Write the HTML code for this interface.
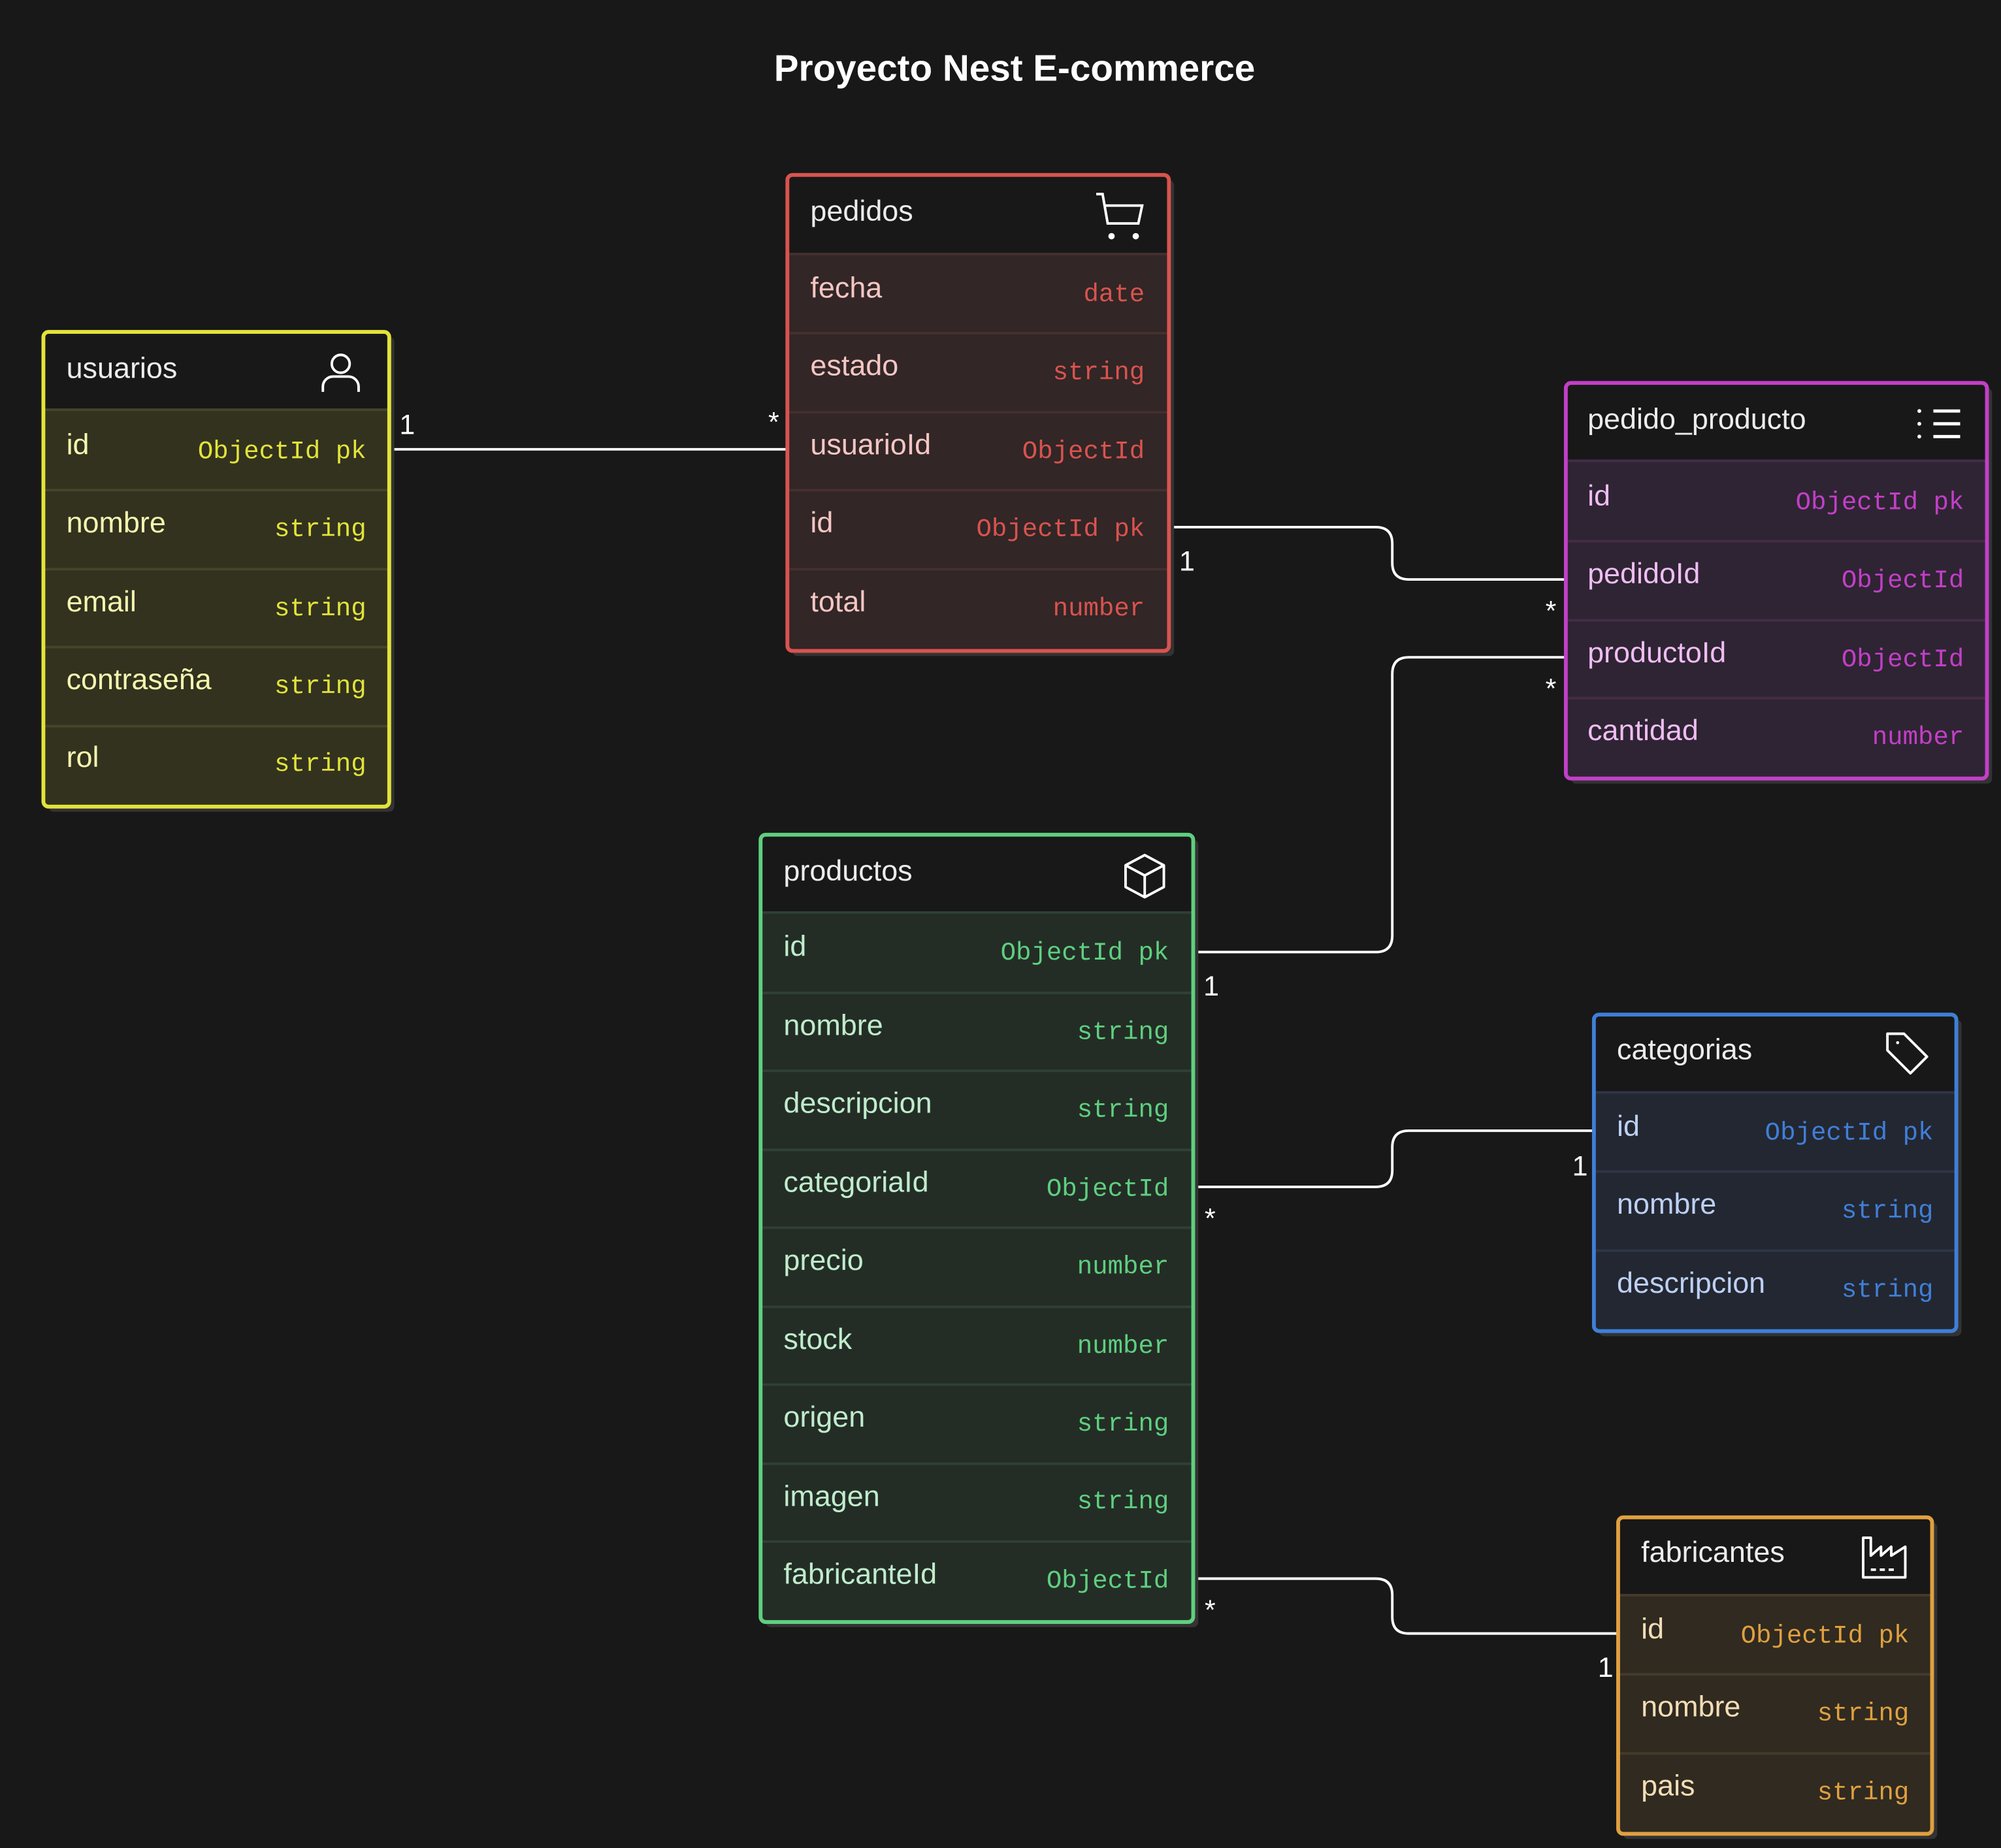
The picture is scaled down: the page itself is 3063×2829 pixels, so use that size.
<!DOCTYPE html>
<html><head><meta charset="utf-8"><style>
html,body{margin:0;padding:0;background:#181818;}
svg{display:block}
.t{font-family:"Liberation Sans",sans-serif;font-size:23px;fill:#ececec}
.n{font-family:"Liberation Sans",sans-serif;font-size:23px}
.m{font-family:"Liberation Mono",monospace;font-size:20px;text-anchor:end;white-space:pre}
.lbl{font-family:"Liberation Sans",sans-serif;font-size:22px;fill:#fff}
.c{fill:none;stroke:#fff;stroke-width:2}
</style></head><body>
<svg width="3063" height="2829" viewBox="0 0 1568 1448" xmlns="http://www.w3.org/2000/svg">
<rect width="1568" height="1448" fill="#181818"/>
<text x="795" y="63" text-anchor="middle" font-family="Liberation Sans, sans-serif" font-weight="bold" font-size="29" fill="#fff">Proyecto Nest E-commerce</text>

<!-- connectors -->
<path class="c" d="M305 352 H620"/>
<path class="c" d="M908 413 H1078 Q1091 413 1091 426 V441 Q1091 454 1104 454 H1234"/>
<path class="c" d="M929 746 H1078 Q1091 746 1091 733 V528 Q1091 515 1104 515 H1234"/>
<path class="c" d="M929 930 H1078 Q1091 930 1091 917 V899 Q1091 886 1104 886 H1255"/>
<path class="c" d="M929 1237 H1078 Q1091 1237 1091 1250 V1267 Q1091 1280 1104 1280 H1276"/>
<g fill="#000"><circle cx="305" cy="352" r="2.5"/><circle cx="620" cy="352" r="2.5"/><circle cx="908" cy="413" r="2.5"/><circle cx="1234" cy="454" r="2.5"/><circle cx="1234" cy="515" r="2.5"/><circle cx="929" cy="746" r="2.5"/><circle cx="929" cy="930" r="2.5"/><circle cx="1255" cy="886" r="2.5"/><circle cx="929" cy="1237" r="2.5"/><circle cx="1276" cy="1280" r="2.5"/></g>
<text class="lbl" x="313" y="340">1</text><text class="lbl" x="602" y="338">*</text>
<text class="lbl" x="924" y="447">1</text><text class="lbl" x="1211" y="486">*</text>
<text class="lbl" x="943" y="780">1</text><text class="lbl" x="1211" y="547">*</text>
<text class="lbl" x="944" y="962">*</text><text class="lbl" x="1232" y="921">1</text>
<text class="lbl" x="944" y="1269">*</text><text class="lbl" x="1252" y="1314">1</text>

<!-- usuarios -->
<rect x="38" y="264" width="271" height="372" rx="4" fill="#333"/>
<rect x="34" y="260" width="271" height="372" rx="4" fill="#32321f"/>
<rect x="35" y="261" width="269" height="60" fill="#181818"/>
<g stroke="#45452a" stroke-width="2"><line x1="35" y1="321" x2="304" y2="321"/><line x1="35" y1="384" x2="304" y2="384"/><line x1="35" y1="446" x2="304" y2="446"/><line x1="35" y1="507" x2="304" y2="507"/><line x1="35" y1="569" x2="304" y2="569"/></g>
<rect x="34" y="260" width="271" height="372" rx="4" fill="none" stroke="#e3e33b" stroke-width="3"/>
<text class="t" x="52" y="296">usuarios</text>
<g fill="none" stroke="#fff" stroke-width="2"><circle cx="267" cy="285" r="7"/><path d="M253 307 v-4 a8 8 0 0 1 8 -8 h12 a8 8 0 0 1 8 8 v4"/></g>
<g class="n" fill="#f6f6b0"><text x="52" y="356">id</text><text x="52" y="417">nombre</text><text x="52" y="479">email</text><text x="52" y="540">contraseña</text><text x="52" y="601">rol</text></g>
<g class="m" fill="#e3e33b"><text x="287" y="359">ObjectId  pk</text><text x="287" y="420">string</text><text x="287" y="482">string</text><text x="287" y="543">string</text><text x="287" y="604">string</text></g>

<!-- pedidos -->
<rect x="621" y="141" width="299" height="373" rx="4" fill="#333"/>
<rect x="617" y="137" width="299" height="373" rx="4" fill="#322626"/>
<rect x="618" y="138" width="297" height="61" fill="#181818"/>
<g stroke="#452f2f" stroke-width="2"><line x1="618" y1="199" x2="915" y2="199"/><line x1="618" y1="261" x2="915" y2="261"/><line x1="618" y1="323" x2="915" y2="323"/><line x1="618" y1="384" x2="915" y2="384"/><line x1="618" y1="446" x2="915" y2="446"/></g>
<rect x="617" y="137" width="299" height="373" rx="4" fill="none" stroke="#d9534f" stroke-width="3"/>
<text class="t" x="635" y="173">pedidos</text>
<g fill="none" stroke="#fff" stroke-width="2"><path d="M859 152 h5 l4 23 h24 l3 -14 h-29"/></g><circle cx="871" cy="185" r="2.5" fill="#fff"/><circle cx="890" cy="185" r="2.5" fill="#fff"/>
<g class="n" fill="#f4c6c4"><text x="635" y="233">fecha</text><text x="635" y="294">estado</text><text x="635" y="356">usuarioId</text><text x="635" y="417">id</text><text x="635" y="479">total</text></g>
<g class="m" fill="#d9534f"><text x="897" y="236">date</text><text x="897" y="297">string</text><text x="897" y="359">ObjectId</text><text x="897" y="420">ObjectId  pk</text><text x="897" y="482">number</text></g>

<!-- pedido_producto -->
<rect x="1231" y="304" width="330" height="310" rx="4" fill="#333"/>
<rect x="1227" y="300" width="330" height="310" rx="4" fill="#2f2433"/>
<rect x="1228" y="301" width="328" height="60" fill="#181818"/>
<g stroke="#442c48" stroke-width="2"><line x1="1228" y1="361" x2="1556" y2="361"/><line x1="1228" y1="424" x2="1556" y2="424"/><line x1="1228" y1="486" x2="1556" y2="486"/><line x1="1228" y1="547" x2="1556" y2="547"/></g>
<rect x="1227" y="300" width="330" height="310" rx="4" fill="none" stroke="#c23fc8" stroke-width="3"/>
<text class="t" x="1244" y="336">pedido_producto</text>
<g stroke="#fff" stroke-width="2.5"><line x1="1515" y1="322" x2="1536" y2="322"/><line x1="1515" y1="332" x2="1536" y2="332"/><line x1="1515" y1="342" x2="1536" y2="342"/></g><g fill="#fff"><circle cx="1504" cy="322" r="1.5"/><circle cx="1504" cy="332" r="1.5"/><circle cx="1504" cy="342" r="1.5"/></g>
<g class="n" fill="#eebdf2"><text x="1244" y="396">id</text><text x="1244" y="457">pedidoId</text><text x="1244" y="519">productoId</text><text x="1244" y="580">cantidad</text></g>
<g class="m" fill="#c23fc8"><text x="1539" y="399">ObjectId  pk</text><text x="1539" y="460">ObjectId</text><text x="1539" y="522">ObjectId</text><text x="1539" y="583">number</text></g>

<!-- productos -->
<rect x="600" y="658" width="339" height="617" rx="4" fill="#333"/>
<rect x="596" y="654" width="339" height="617" rx="4" fill="#232d26"/>
<rect x="597" y="655" width="337" height="60" fill="#181818"/>
<g stroke="#2f4034" stroke-width="2"><line x1="597" y1="715" x2="934" y2="715"/><line x1="597" y1="778" x2="934" y2="778"/><line x1="597" y1="839" x2="934" y2="839"/><line x1="597" y1="901" x2="934" y2="901"/><line x1="597" y1="962" x2="934" y2="962"/><line x1="597" y1="1024" x2="934" y2="1024"/><line x1="597" y1="1085" x2="934" y2="1085"/><line x1="597" y1="1147" x2="934" y2="1147"/><line x1="597" y1="1208" x2="934" y2="1208"/></g>
<rect x="596" y="654" width="339" height="617" rx="4" fill="none" stroke="#5fcf7f" stroke-width="3"/>
<text class="t" x="614" y="690">productos</text>
<g fill="none" stroke="#fff" stroke-width="2" stroke-linejoin="round"><path d="M897 670 l15 8 v17 l-15 8 l-15 -8 v-17 z M882 678 l15 8 l15 -8 M897 686 v17"/></g>
<g class="n" fill="#c0eccc"><text x="614" y="749">id</text><text x="614" y="811">nombre</text><text x="614" y="872">descripcion</text><text x="614" y="934">categoriaId</text><text x="614" y="995">precio</text><text x="614" y="1057">stock</text><text x="614" y="1118">origen</text><text x="614" y="1180">imagen</text><text x="614" y="1241">fabricanteId</text></g>
<g class="m" fill="#5fcf7f"><text x="916" y="752">ObjectId  pk</text><text x="916" y="814">string</text><text x="916" y="875">string</text><text x="916" y="937">ObjectId</text><text x="916" y="998">number</text><text x="916" y="1060">number</text><text x="916" y="1121">string</text><text x="916" y="1182">string</text><text x="916" y="1244">ObjectId</text></g>

<!-- categorias -->
<rect x="1253" y="799" width="284" height="248" rx="4" fill="#333"/>
<rect x="1249" y="795" width="284" height="248" rx="4" fill="#232732"/>
<rect x="1250" y="796" width="282" height="60" fill="#181818"/>
<g stroke="#2e3546" stroke-width="2"><line x1="1250" y1="856" x2="1532" y2="856"/><line x1="1250" y1="918" x2="1532" y2="918"/><line x1="1250" y1="980" x2="1532" y2="980"/></g>
<rect x="1249" y="795" width="284" height="248" rx="4" fill="none" stroke="#3f7fd7" stroke-width="3"/>
<text class="t" x="1267" y="830">categorias</text>
<path d="M1479 810 h13 l18 18 l-13 13 l-18 -18 z" fill="none" stroke="#fff" stroke-width="2" stroke-linejoin="round"/><circle cx="1487" cy="817" r="1.2" fill="#fff"/>
<g class="n" fill="#bdd0f2"><text x="1267" y="890">id</text><text x="1267" y="951">nombre</text><text x="1267" y="1013">descripcion</text></g>
<g class="m" fill="#3f7fd7"><text x="1515" y="893">ObjectId  pk</text><text x="1515" y="954">string</text><text x="1515" y="1016">string</text></g>

<!-- fabricantes -->
<rect x="1272" y="1193" width="246" height="248" rx="4" fill="#333"/>
<rect x="1268" y="1189" width="246" height="248" rx="4" fill="#302a20"/>
<rect x="1269" y="1190" width="244" height="60" fill="#181818"/>
<g stroke="#453a2a" stroke-width="2"><line x1="1269" y1="1250" x2="1513" y2="1250"/><line x1="1269" y1="1312" x2="1513" y2="1312"/><line x1="1269" y1="1374" x2="1513" y2="1374"/></g>
<rect x="1268" y="1189" width="246" height="248" rx="4" fill="none" stroke="#e0a040" stroke-width="3"/>
<text class="t" x="1286" y="1224">fabricantes</text>
<path d="M1460 1205 h6 v14 l8 -7 v7 l8 -7 v7 l11 -7 v24 h-33 z M1466 1230 h4 M1473 1230 h4 M1480 1230 h4" fill="none" stroke="#fff" stroke-width="2" stroke-linejoin="round"/>
<g class="n" fill="#f3ddb6"><text x="1286" y="1284">id</text><text x="1286" y="1345">nombre</text><text x="1286" y="1407">pais</text></g>
<g class="m" fill="#e0a040"><text x="1496" y="1287">ObjectId  pk</text><text x="1496" y="1348">string</text><text x="1496" y="1410">string</text></g>
</svg>
</body></html>
